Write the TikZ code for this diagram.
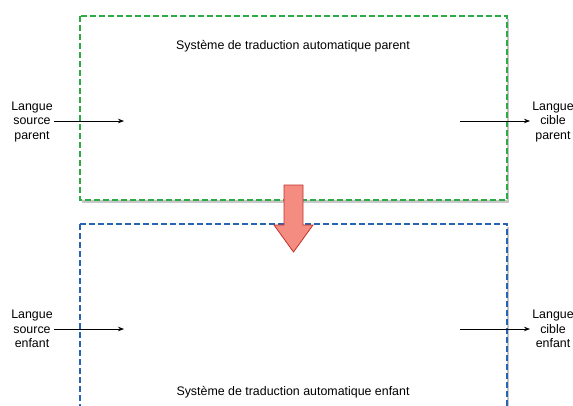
\documentclass[tikz,border=0pt]{standalone}
\usepackage{fontspec}
\setmainfont{Liberation Sans}
\usetikzlibrary{shadows,arrows.meta,shapes.arrows}
\definecolor{grn}{RGB}{45,170,70}
\definecolor{blu}{RGB}{40,100,180}
\definecolor{redfill}{RGB}{245,140,130}
\definecolor{redline}{RGB}{195,50,40}
\begin{document}
\begin{tikzpicture}[x=1pt,y=-1pt,
  sysbox/.style={draw, line width=1.3pt, dash pattern=on 6pt off 3pt, fill=white,
    drop shadow={shadow xshift=2pt, shadow yshift=-2.5pt, opacity=0.45}},
  lbl/.style={font=\fontsize{12.4}{14.5}\selectfont, align=center, inner sep=1pt},
  conn/.style={-{Stealth[length=6pt,width=4.5pt]}, line width=0.7pt}]
\useasboundingbox (0,0) rectangle (573,405);
\clip (0,0) rectangle (573,405);
% boxes
\draw[sysbox, draw=grn] (80,16) rectangle (507,200);
\draw[sysbox, draw=blu] (80,224) rectangle (507,430);
\node[lbl] (t1) at (293,46) {Système de traduction automatique parent};
\node[lbl] (t2) at (293,392) {Système de traduction automatique enfant};
% red transfer arrow
\draw[fill=redfill, draw=redline, line width=0.8pt]
  (284,185) -- (303,185) -- (303,225) -- (313,225) -- (293.5,252) -- (274,225) -- (284,225) -- cycle;
% top row
\node[lbl] (sp) at (32,122) {Langue\\source\\parent};
\coordinate (sp1) at (54,121);
\coordinate (sp2) at (124,121);
\draw[conn] (sp1) -- (sp2);
\coordinate (cp1) at (460,121);
\node[lbl] (cp) at (553,122) {Langue\\cible\\parent};
\coordinate (cp2) at (530,121);
\draw[conn] (cp1) -- (cp2);
% bottom row
\node[lbl] (se) at (32,329) {Langue\\source\\enfant};
\coordinate (se1) at (54,329);
\coordinate (se2) at (124,329);
\draw[conn] (se1) -- (se2);
\coordinate (ce1) at (460,329);
\node[lbl] (ce) at (553,329) {Langue\\cible\\enfant};
\coordinate (ce2) at (530,329);
\draw[conn] (ce1) -- (ce2);
\end{tikzpicture}
\end{document}
